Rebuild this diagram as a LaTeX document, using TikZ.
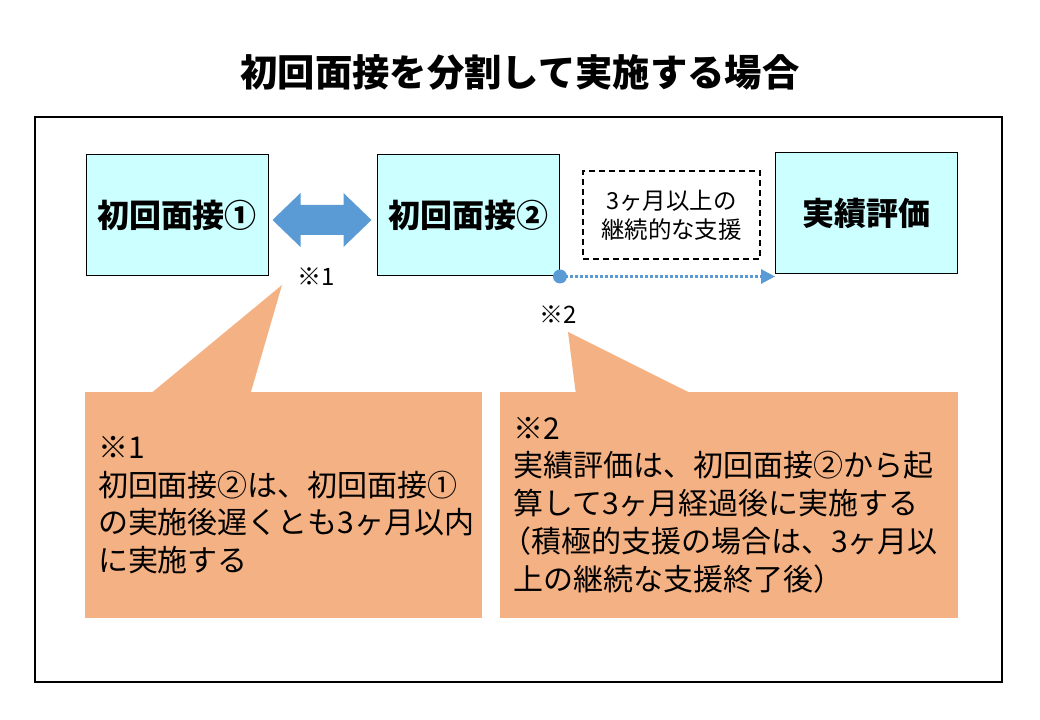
\documentclass[tikz,border=0pt]{standalone}
\usepackage{fontspec}
\setmainfont{Noto Sans CJK JP}
\usetikzlibrary{arrows.meta,calc}
\definecolor{boxcyan}{HTML}{CCFFFF}
\definecolor{arrowblue}{HTML}{5B9BD5}
\definecolor{notefill}{HTML}{F4B183}
\tikzset{
  stepbox/.style={draw,line width=0.75pt,fill=boxcyan,minimum width=136.5pt,minimum height=90.75pt,
    font=\bfseries\fontsize{24}{28}\selectfont},
  notebox/.style={fill=notefill,align=left,inner sep=9.75pt,minimum height=169.5pt,
    font=\fontsize{22.5}{28.3}\selectfont},
  refmark/.style={font=\fontsize{18}{20}\selectfont,inner sep=0pt},
}
\begin{document}
\begin{tikzpicture}[x=0.75pt,y=-0.75pt]
\useasboundingbox (0,0) rectangle (1040,720);
\node[font=\bfseries\fontsize{28}{32}\selectfont] (title) at (520,72) {初回面接を分割して実施する場合};
\draw[line width=1.5pt] (35,117) rectangle (1002,682);
% the three steps
\node[stepbox] (first) at (177,215.5) {初回面接①};
\node[stepbox] (second) at (468.5,215.5) {初回面接②};
\node[stepbox] (eval) at (866.5,213) {実績評価};
\node[draw,line width=1.5pt,dash pattern=on 4.5pt off 3pt,align=center,minimum width=132.75pt,minimum height=66pt,
  font=\fontsize{17.6}{21.75}\selectfont] (support) at (671.5,215) {3ヶ月以上の\\継続的な支援};
% double arrow
\fill[arrowblue] ($(first.east)+(4,4.5)$) -- ++(28,-27) -- ++(0,12) -- ++(43,0) -- ++(0,-12)
  -- ++(28,27) -- ++(-28,27) -- ++(0,-12) -- ++(-43,0) -- ++(0,12) -- cycle;
% dotted link
\draw[arrowblue,line width=2.25pt,dash pattern=on 2.25pt off 1.5pt,-{Triangle[length=10.5pt,width=10.5pt]}]
  (second.south east) -- (second.south east -| eval.west);
\fill[arrowblue] (second.south east) circle[radius=5.25pt];
\node[refmark] (m1) at (316,277) {※1};
\node[refmark] (m2) at (558,315) {※2};
% callouts
\node[notebox,text width=278.25pt] (note1) at (283.5,505)
  {※1\\初回面接②は、初回面接①\\の実施後遅くとも3ヶ月以内\\に実施する};
\node[notebox,text width=324pt] (note2) at (729,505)
  {※2\\実績評価は、初回面接②から起\\算して3ヶ月経過後に実施する\\\hspace*{-0.4em}（積極的支援の場合は、3ヶ月以\\上の継続な支援終了後）};
\fill[notefill] ($(note1.north west)+(67,1)$) -- (282,285) -- ($(note1.north west)+(166,1)$) -- cycle;
\fill[notefill] ($(note2.north west)+(76,1)$) -- (568,332) -- ($(note2.north west)+(190,1)$) -- cycle;
\end{tikzpicture}
\end{document}
